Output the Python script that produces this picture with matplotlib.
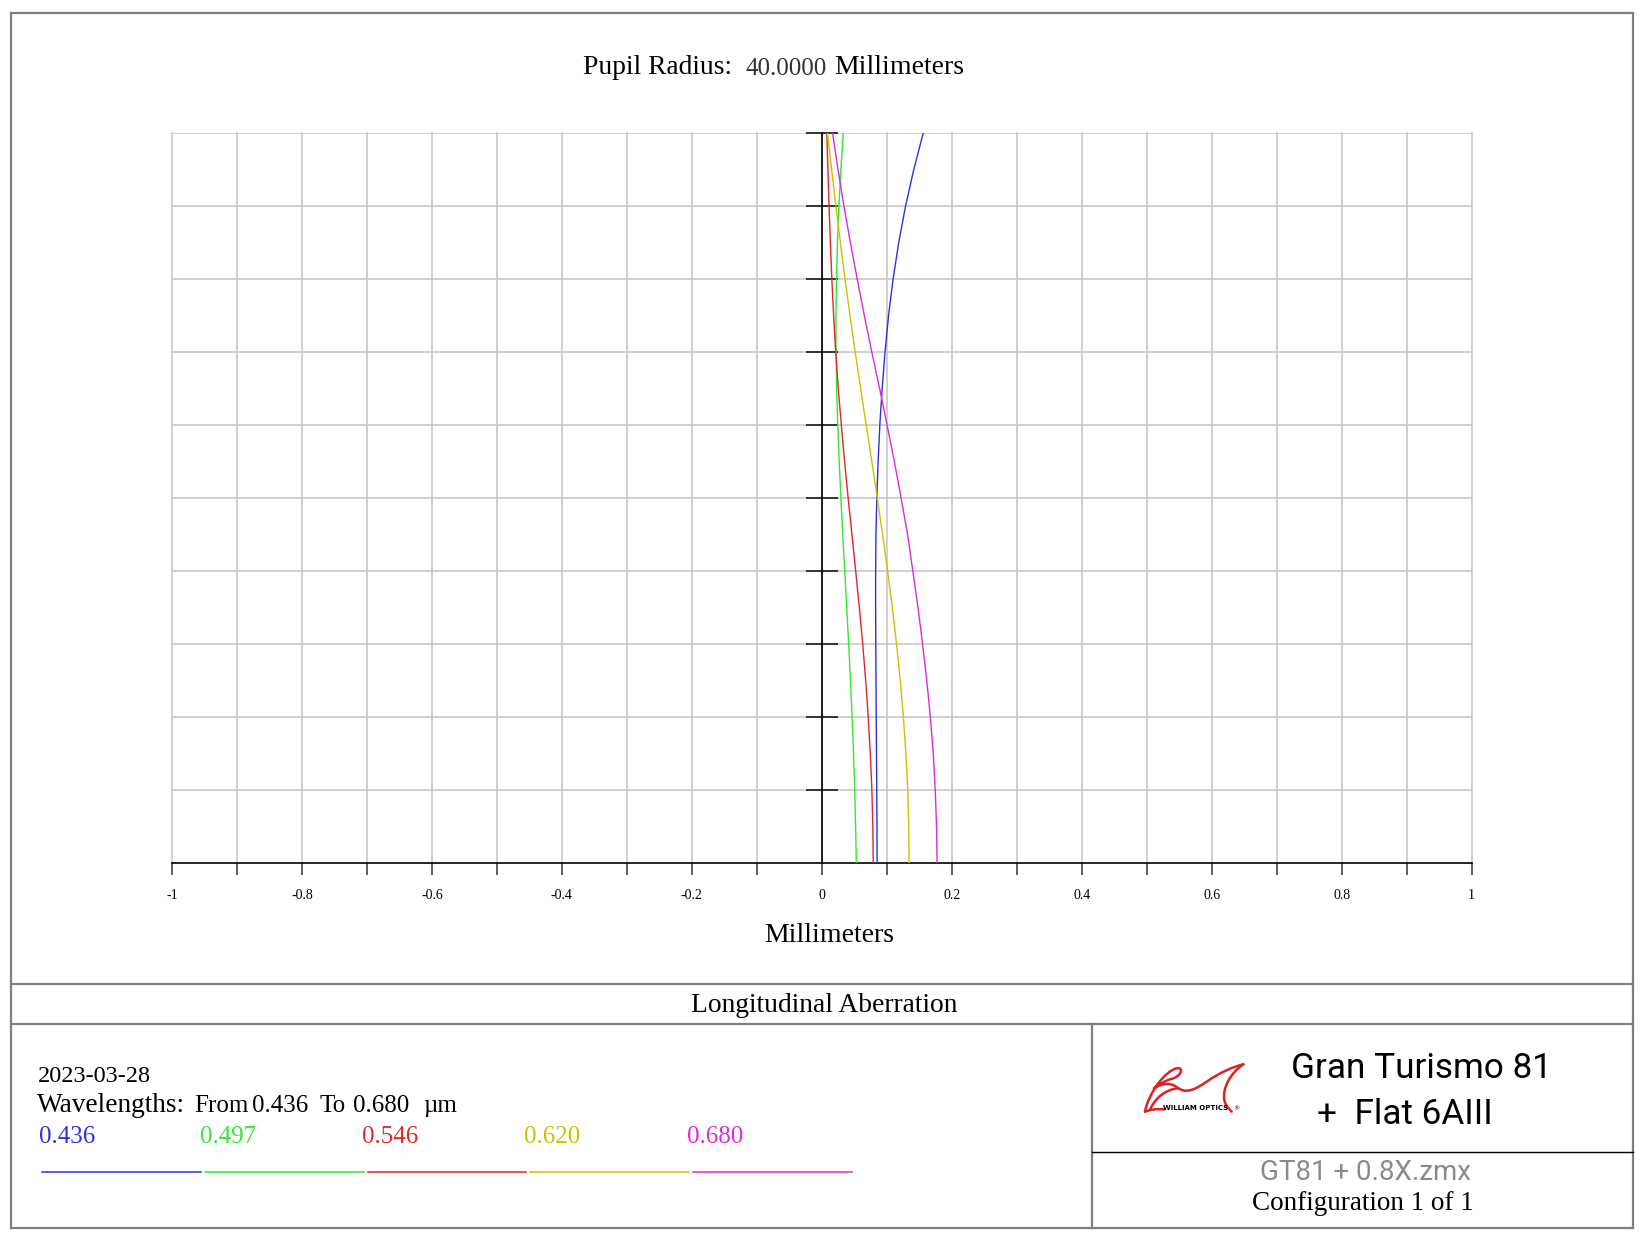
import numpy as np
import matplotlib.pyplot as plt
from matplotlib.lines import Line2D
from matplotlib.path import Path
from matplotlib.patches import PathPatch

plt.rcParams['font.family'] = ['Liberation Serif', 'DejaVu Serif']

# pupil coordinate (normalised) and longitudinal focus shift (mm) per wavelength
pupil = [0.0, 0.05, 0.1, 0.15, 0.2, 0.25, 0.3, 0.35, 0.4, 0.45, 0.5,
         0.55, 0.6, 0.65, 0.7, 0.75, 0.8, 0.85, 0.9, 0.95, 1.0]
shift_436 = [0.0850, 0.0848, 0.0845, 0.0841, 0.0837, 0.0833, 0.0830, 0.0828, 0.0828, 0.0832, 0.0846,
             0.0866, 0.0892, 0.0928, 0.0972, 0.1026, 0.1096, 0.1183, 0.1288, 0.1415, 0.156]
shift_497 = [0.0530, 0.0520, 0.0506, 0.0488, 0.0466, 0.0441, 0.0413, 0.0383, 0.0352, 0.0322, 0.0293,
             0.0267, 0.0245, 0.0228, 0.0218, 0.0216, 0.0225, 0.0240, 0.0262, 0.0292, 0.033]
shift_546 = [0.0791, 0.0785, 0.0770, 0.0746, 0.0714, 0.0675, 0.0629, 0.0577, 0.0521, 0.0463, 0.0405,
             0.0350, 0.0300, 0.0253, 0.0214, 0.0181, 0.0154, 0.0131, 0.0111, 0.0093, 0.0077]
shift_620 = [0.1342, 0.1337, 0.1322, 0.1294, 0.1255, 0.1207, 0.1150, 0.1085, 0.1013, 0.0935, 0.0853,
             0.0769, 0.0683, 0.0597, 0.0513, 0.0433, 0.0357, 0.0285, 0.0216, 0.0150, 0.0087]
shift_680 = [0.1774, 0.1765, 0.1745, 0.1715, 0.1670, 0.1615, 0.1550, 0.1480, 0.1400, 0.1320, 0.1220,
             0.1116, 0.1004, 0.0889, 0.0769, 0.0654, 0.0544, 0.0439, 0.0339, 0.0249, 0.0164]

wl_labels = ["0.436", "0.497", "0.546", "0.620", "0.680"]
wl_colors = ["#3030e0", "#33e833", "#e02828", "#c8c400", "#e028e0"]
series = [shift_436, shift_497, shift_546, shift_620, shift_680]
grid_y = [0.1, 0.2, 0.3, 0.4, 0.5, 0.6, 0.7, 0.8, 0.9, 1.0]

W, H = 1645, 1240
fig = plt.figure(figsize=(W / 100, H / 100), dpi=100)


def fx(px):
    return px / W


def fy(py):
    return 1 - py / H


# main plot
ax = fig.add_axes([fx(172), fy(863.3), (1471.7 - 172) / W, (863.3 - 133) / H])
for vals, col in zip(series, wl_colors):
    ax.plot(vals, pupil, color=col, lw=1.0, zorder=3)

ax.set_xlim(-1, 1)
ax.set_ylim(0, 1)
xt = np.round(np.arange(-1, 1.001, 0.1), 1)
ax.set_xticks(xt)
labels = []
for i, v in enumerate(xt):
    if i % 2:
        labels.append("")
    else:
        labels.append("%g" % v if v != 0 else "0")
ax.set_xticklabels(labels)
ax.set_yticks(grid_y)
ax.grid(True, color="#c8c8c8", lw=1.2)
ax.set_axisbelow(True)
for gl in ax.get_xgridlines() + ax.get_ygridlines():
    gl.set_clip_on(False)

for s in ["top", "right"]:
    ax.spines[s].set_visible(False)
ax.spines["left"].set_position(("data", 0))
ax.spines["left"].set_color("black")
ax.spines["left"].set_linewidth(1.2)
ax.spines["left"].set_zorder(4)
ax.spines["bottom"].set_color("black")
ax.spines["bottom"].set_linewidth(1.2)
ax.tick_params(axis="y", direction="inout", length=23, width=1.4, color="#333333",
               labelleft=False)
ax.tick_params(axis="x", direction="out", length=8.6, width=1.2, color="#444444",
               labelsize=10, pad=10)

# titles
fig.text(fx(583), fy(67), "Pupil Radius:", fontsize=19.8, ha="left", va="center")
fig.text(fx(745), fy(69), "40.0000", fontsize=18, ha="left", va="center", color="#333333")
fig.text(fx(834), fy(67), "Millimeters", fontsize=20, ha="left", va="center")
fig.text(fx(829), fy(936), "Millimeters", fontsize=20, ha="center", va="center")
fig.text(fx(824), fy(1006), "Longitudinal Aberration", fontsize=19.8, ha="center", va="center")

# frame and separators
frame_col = "#7f7f7f"


def hline(x0, x1, y, col=frame_col, lw=1.6):
    fig.add_artist(Line2D([fx(x0), fx(x1)], [fy(y), fy(y)], color=col, lw=lw,
                          transform=fig.transFigure))


def vline(x, y0, y1, col=frame_col, lw=1.6):
    fig.add_artist(Line2D([fx(x), fx(x)], [fy(y0), fy(y1)], color=col, lw=lw,
                          transform=fig.transFigure))


hline(10.5, 1632.5, 12.6)
hline(10.5, 1632.5, 1228.4)
vline(10.5, 12.6, 1228.4)
vline(1632.5, 12.6, 1228.4)
hline(10.5, 1632.5, 984)
hline(10.5, 1632.5, 1024)
vline(1092, 1024, 1228.4)
hline(1092, 1632.5, 1152, col="black", lw=1.0)

# bottom-left info block
fig.text(fx(38), fy(1076), "2023-03-28", fontsize=17.5, ha="left", va="center")
wl_words = ["Wavelengths:", "From", "0.436", "To", "0.680", "\u00b5m"]
wl_word_x = [36.7, 194, 252, 320, 353.5, 423]
wl_word_size = [19.6, 18, 18, 18, 18, 18]
for word, wx, ws in zip(wl_words, wl_word_x, wl_word_size):
    fig.text(fx(wx), fy(1106), word, fontsize=ws, ha="left", va="center")
lab_x = [39, 200, 362, 524, 687]
seg_x = [(42, 201), (205, 364), (368, 526), (530, 689), (693, 852)]
for lab, col, lx, (s0, s1) in zip(wl_labels, wl_colors, lab_x, seg_x):
    fig.text(fx(lx), fy(1137), lab, fontsize=18, color=col, ha="left", va="center")
    hline(s0, s1, 1172, col=col, lw=1.1)

# right block
fig.text(fx(1421), fy(1069), "Gran Turismo 81", fontsize=25.3, ha="center", va="center",
         family="Roboto")
fig.text(fx(1405), fy(1114), "+  Flat 6AIII", fontsize=25.3, ha="center", va="center",
         family="Roboto")
fig.text(fx(1366), fy(1172), "GT81 + 0.8X.zmx", fontsize=20, ha="center", va="center",
         family="Roboto", color="#8a8a8a")
fig.text(fx(1363), fy(1204), "Configuration 1 of 1", fontsize=19.5, ha="center", va="center")

# logo (William Optics swoosh)
lax = fig.add_axes([fx(1135), fy(1120), 120 / W, 65 / H])
lax.set_xlim(0, 360)
lax.set_ylim(195, 0)
lax.axis("off")
red = "#e02020"
M, C3, C4 = Path.MOVETO, Path.CURVE3, Path.CURVE4
strokes = [
    ([(30, 170), (40, 115), (90, 48), (125, 40), (148, 35), (140, 65), (108, 72),
      (88, 78), (70, 90), (57, 100)], [M, C4, C4, C4, C4, C4, C4, C4, C4, C4]),
    ([(57, 100), (85, 82), (110, 84), (128, 98), (150, 115), (175, 108), (215, 80),
      (255, 52), (295, 35), (325, 28)], [M, C4, C4, C4, C4, C4, C4, C4, C4, C4]),
    ([(45, 165), (60, 128), (92, 104), (128, 100)], [M, C4, C4, C4]),
    ([(325, 28), (285, 55), (262, 100), (268, 135), (272, 155), (283, 162), (290, 170)],
     [M, C4, C4, C4, C4, C4, C4]),
    ([(30, 170), (55, 160), (88, 163)], [M, C3, C3]),
]
for verts, codes in strokes:
    lax.add_patch(PathPatch(Path(verts, codes), fill=False, edgecolor=red, lw=1.8,
                            capstyle="round", joinstyle="round"))
lax.text(182, 160, "WILLIAM OPTICS", fontsize=5, fontweight="bold", family="DejaVu Sans",
         ha="center", va="center")
lax.text(303, 162, "\u00ae", fontsize=4.5, family="DejaVu Sans", ha="center", va="center")

fig.savefig("out.png", dpi=100)
